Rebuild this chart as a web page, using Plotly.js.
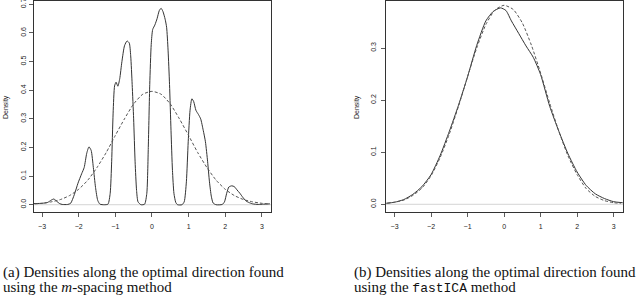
<!DOCTYPE html>
<html>
<head>
<meta charset="utf-8">
<script src="https://cdn.plot.ly/plotly-3.0.1.min.js"></script>
<style>html,body{margin:0;padding:0;background:#fff;}#chart{width:640px;height:295px;}</style>
</head>
<body>
<div id="chart"></div>
<script>
// (a) m-spacing: estimated density (solid) and normal reference (dashed)
var aSolidX = [-3.22,-3.0,-2.85,-2.75,-2.68,-2.60,-2.52,-2.45,-2.30,-2.22,-2.12,-2.02,-1.92,-1.85,-1.78,-1.72,-1.66,-1.60,-1.54,-1.48,-1.42,-1.30,-1.20,-1.14,-1.10,-1.06,-1.02,-0.98,-0.93,-0.88,-0.82,-0.75,-0.68,-0.62,-0.58,-0.54,-0.50,-0.46,-0.42,-0.38,-0.30,-0.20,-0.14,-0.10,-0.06,-0.02,0.02,0.08,0.14,0.20,0.25,0.30,0.36,0.40,0.44,0.48,0.52,0.56,0.60,0.65,0.70,0.82,0.88,0.94,0.99,1.04,1.09,1.14,1.20,1.27,1.33,1.40,1.46,1.52,1.57,1.62,1.67,1.75,1.92,1.98,2.04,2.10,2.18,2.25,2.32,2.40,2.48,2.56,2.64,2.75,2.90,3.05,3.22];
var aSolidY = [0.004,0.005,0.008,0.016,0.020,0.012,0.004,0.001,0.001,0.005,0.035,0.075,0.108,0.130,0.180,0.202,0.190,0.130,0.060,0.015,0.002,0.000,0.002,0.040,0.150,0.320,0.415,0.428,0.414,0.440,0.500,0.555,0.572,0.565,0.520,0.420,0.300,0.150,0.050,0.010,0.000,0.002,0.040,0.200,0.420,0.560,0.612,0.628,0.650,0.678,0.686,0.675,0.648,0.620,0.540,0.420,0.260,0.120,0.040,0.008,0.000,0.000,0.010,0.080,0.220,0.330,0.370,0.360,0.330,0.315,0.300,0.260,0.220,0.150,0.080,0.030,0.006,0.000,0.001,0.010,0.040,0.062,0.066,0.063,0.052,0.040,0.026,0.014,0.008,0.003,0.001,0.002,0.003];
var aDashX = [-3.2,-3.0,-2.75,-2.5,-2.25,-2.0,-1.75,-1.5,-1.25,-1.0,-0.75,-0.5,-0.25,0,0.25,0.5,0.75,1.0,1.25,1.5,1.75,2.0,2.25,2.5,2.75,3.0,3.2];
var aDashY = [0.003,0.005,0.010,0.018,0.032,0.054,0.086,0.130,0.182,0.242,0.300,0.352,0.386,0.396,0.386,0.352,0.300,0.242,0.182,0.130,0.086,0.054,0.032,0.018,0.010,0.005,0.003];

// (b) fastICA
var bSolidX = [-3.23,-3.0,-2.75,-2.5,-2.25,-2.0,-1.75,-1.5,-1.25,-1.0,-0.75,-0.5,-0.3,-0.1,0.05,0.2,0.4,0.6,0.8,1.0,1.25,1.5,1.75,2.0,2.25,2.5,2.75,3.0,3.25];
var bSolidY = [0.002,0.004,0.009,0.019,0.034,0.057,0.094,0.140,0.190,0.245,0.305,0.352,0.370,0.377,0.372,0.352,0.328,0.304,0.282,0.249,0.188,0.140,0.097,0.062,0.036,0.020,0.011,0.005,0.003];
var bDashX = [-3.2,-3.0,-2.75,-2.5,-2.25,-2.0,-1.75,-1.5,-1.25,-1.0,-0.75,-0.5,-0.25,0.0,0.25,0.5,0.75,1.0,1.25,1.5,1.75,2.0,2.25,2.5,2.75,3.0,3.2];
var bDashY = [0.002,0.004,0.008,0.017,0.031,0.055,0.090,0.135,0.188,0.245,0.300,0.345,0.373,0.382,0.374,0.348,0.305,0.252,0.194,0.140,0.093,0.057,0.030,0.015,0.007,0.003,0.002];

var xTicks = [-3,-2,-1,0,1,2,3];
var aYTicks = [0,0.1,0.2,0.3,0.4,0.5,0.6,0.7];
var bYTicks = [0,0.1,0.2,0.3];
var yTitle = "Density";
var capA1 = "(a) Densities along the optimal direction found";
var capA2 = "using the <i>m</i>-spacing method";
var capB1 = "(b) Densities along the optimal direction found";
var capB2 = "using the <span style=\"font-family:'Liberation Mono',monospace;font-size:13px\">fastICA</span> method";

var solidLine = {color:'#333', width:1, shape:'spline', smoothing:0.6};
var dashLine = {color:'#555', width:1, dash:'3px,2px', shape:'spline', smoothing:0.6};

var traces = [
  {x:aSolidX, y:aSolidY, xaxis:'x', yaxis:'y', mode:'lines', line:solidLine, hoverinfo:'skip'},
  {x:aDashX, y:aDashY, xaxis:'x', yaxis:'y', mode:'lines', line:dashLine, hoverinfo:'skip'},
  {x:bSolidX, y:bSolidY, xaxis:'x2', yaxis:'y2', mode:'lines', line:solidLine, hoverinfo:'skip'},
  {x:bDashX, y:bDashY, xaxis:'x2', yaxis:'y2', mode:'lines', line:dashLine, hoverinfo:'skip'}
];

var tickFont = {family:'Liberation Sans, Arial, sans-serif', size:7, color:'#222'};
function xax(dom, anchor, rng){
  return {domain:dom, anchor:anchor, range:rng, tickvals:xTicks, ticks:'outside', ticklen:4, tickwidth:0.8,
    tickcolor:'#333', showline:true, linecolor:'#333', linewidth:1, mirror:true, showgrid:false,
    zeroline:false, tickfont:tickFont, ticklabelstandoff:4, fixedrange:true};
}
function yax(dom, anchor, rng, tv, so){
  return {domain:dom, anchor:anchor, range:rng, tickvals:tv, tickformat:'.1f', ticks:'outside', ticklen:4, tickwidth:0.8,
    tickcolor:'#333', showline:true, linecolor:'#333', linewidth:1, mirror:true, showgrid:false,
    zeroline:false, tickfont:tickFont, tickangle:-90, ticklabelstandoff:so, ticklabeloverflow:'allow', fixedrange:true};
}

var capFont = {family:'Liberation Serif, Times New Roman, serif', size:15, color:'#111'};
var layout = {
  width:640, height:295, margin:{l:0,r:0,t:0,b:0}, showlegend:false,
  paper_bgcolor:'#fff', plot_bgcolor:'#fff',
  xaxis: xax([34/640, 271/640], 'y', [-3.22, 3.25]),
  yaxis: yax([83/295, 0.998], 'x', [-0.0254, 0.713], aYTicks, 0),
  xaxis2: xax([386/640, 623/640], 'y2', [-3.235, 3.257]),
  yaxis2: yax([83/295, 0.998], 'x2', [-0.0148, 0.391], bYTicks, 2),
  shapes:[
    {type:'line', xref:'x domain', yref:'y', x0:0, x1:1, y0:0, y1:0, line:{color:'#d4d4d4', width:1}, layer:'below'},
    {type:'line', xref:'x2 domain', yref:'y2', x0:0, x1:1, y0:0, y1:0, line:{color:'#d4d4d4', width:1}, layer:'below'}
  ],
  annotations:[
    {text:yTitle, xref:'paper', yref:'paper', x:6/640, y:1-107/295, xanchor:'center', yanchor:'middle', textangle:-90, showarrow:false, font:tickFont},
    {text:yTitle, xref:'paper', yref:'paper', x:357/640, y:1-107/295, xanchor:'center', yanchor:'middle', textangle:-90, showarrow:false, font:tickFont},
    {text:capA1, xref:'paper', yref:'paper', x:1/640, y:1-272/295, xanchor:'left', yanchor:'middle', showarrow:false, font:capFont, align:'left'},
    {text:capA2, xref:'paper', yref:'paper', x:1/640, y:1-287/295, xanchor:'left', yanchor:'middle', showarrow:false, font:capFont, align:'left'},
    {text:capB1, xref:'paper', yref:'paper', x:352/640, y:1-272/295, xanchor:'left', yanchor:'middle', showarrow:false, font:capFont, align:'left'},
    {text:capB2, xref:'paper', yref:'paper', x:352/640, y:1-287/295, xanchor:'left', yanchor:'middle', showarrow:false, font:capFont, align:'left'}
  ]
};
Plotly.newPlot('chart', traces, layout, {staticPlot:true, displayModeBar:false});
</script>
</body>
</html>
